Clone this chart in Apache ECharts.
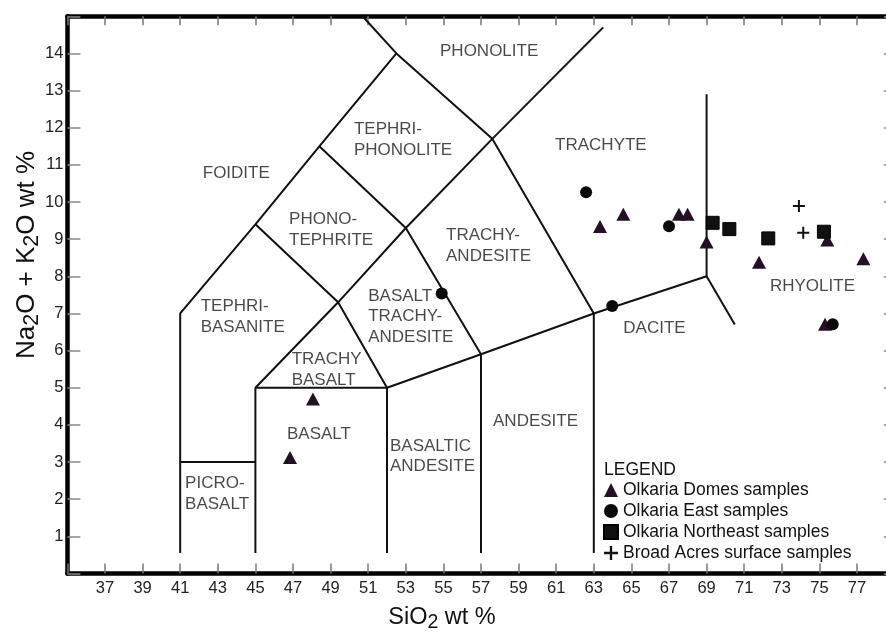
<!DOCTYPE html>
<html><head><meta charset="utf-8">
<script src="https://cdn.jsdelivr.net/npm/echarts@6/dist/echarts.min.js"></script>
<style>html,body{margin:0;padding:0;background:#fff}#c{width:886px;height:632px}</style>
</head><body><div id="c"></div>
<script>
// ---- axis ranges / ticks ----
const xMin = 35, xMax = 78.8, xStep = 2;
const yMin = 0, yMax = 15, yStep = 1;
const xTickLabels = [37,39,41,43,45,47,49,51,53,55,57,59,61,63,65,67,69,71,73,75,77];
const yTickLabels = [1,2,3,4,5,6,7,8,9,10,11,12,13,14];

// ---- samples ----
const domesSiO2 = [63.33,64.57,67.53,67.99,69.0,71.79,75.42,77.34,75.30,48.06,46.84];
const domesAlk  = [9.34,9.67,9.67,9.67,8.92,8.38,8.98,8.47,6.71,4.70,3.12];
const eastSiO2 = [62.59,67.0,63.98,75.71,54.91];
const eastAlk  = [10.26,9.35,7.20,6.71,7.54];
const neSiO2 = [69.32,70.21,72.28,75.24];
const neAlk  = [9.44,9.27,9.02,9.20];
const baSiO2 = [73.91,74.14];
const baAlk  = [9.89,9.17];

// ---- TAS field boundaries ----
const boundaryA = [[41,0.55],[41,7],[45,9.4],[48.4,11.5],[52.5,14]];
const boundaryB = [[50.7,15],[52.5,14],[57.6,11.7],[63,7],[63,0.55]];
const boundaryC = [[57.6,11.7],[63.5,14.7]];
const boundaryD = [[41,3],[45,3]];
const boundaryE = [[45,0.55],[45,5],[52,5],[52,0.55]];
const boundaryF = [[45,5],[49.4,7.3],[45,9.4]];
const boundaryG = [[52,5],[49.4,7.3],[53,9.3],[48.4,11.5]];
const boundaryH = [[53,9.3],[57,5.9],[57,0.55]];
const boundaryI = [[53,9.3],[57.6,11.7]];
const boundaryJ = [[52,5],[57,5.9],[63,7],[69,8],[69,12.9]];
const boundaryK = [[69,8],[70.5,6.7]];

// ---- field names ----
const fieldNames = ['PHONOLITE','TEPHRI-\nPHONOLITE','FOIDITE','TRACHYTE','PHONO-\nTEPHRITE','TRACHY-\nANDESITE','TEPHRI-\nBASANITE','BASALT\nTRACHY-\nANDESITE','TRACHY\nBASALT','DACITE','RHYOLITE','BASALT','BASALTIC\nANDESITE','ANDESITE','PICRO-\nBASALT'];
const fieldX = [54.82,50.24,42.2,60.94,46.79,55.14,42.09,51.0,46.93,64.57,72.37,46.68,52.16,57.64,41.26];
const fieldY = [14.06,11.67,10.78,11.53,9.25,8.82,6.91,6.92,5.48,6.6,7.72,3.75,3.16,4.1,2.15];

const seriesNames = ['Olkaria Domes samples','Olkaria East samples','Olkaria Northeast samples','Broad Acres surface samples'];

const FONT = 'Liberation Sans, Arial, Helvetica, sans-serif';
const plusPath = 'path://M5,0h2v5h5v2h-5v5h-2v-5h-5v-2h5z';
const zip = (a,b) => a.map((v,i) => [v,b[i]]);

const boundaries = [boundaryA,boundaryB,boundaryC,boundaryD,boundaryE,boundaryF,boundaryG,boundaryH,boundaryI,boundaryJ,boundaryK];

const chart = echarts.init(document.getElementById('c'), null, {renderer:'canvas'});

function xAxisDef(pos, showLabel) {
  return {
    type:'value', position:pos, min:xMin, max:xMax, interval:xStep,
    axisLine:{show:true, onZero:false, lineStyle:{color:'#000', width:4.5}},
    axisTick:{show:true, inside:true, length: pos==='bottom'?10:9, lineStyle:{color:'#777', width:1.5},
      interval: (i, v) => xTickLabels.indexOf(Math.round(v*100)/100) >= 0},
    axisLabel:{show:showLabel, margin:6, fontSize:16.5, color:'#222', fontFamily:FONT,
      formatter: v => xTickLabels.indexOf(Math.round(v*100)/100) >= 0 ? String(v) : ''},
    splitLine:{show:false}
  };
}
function yAxisDef(pos, showLabel) {
  return {
    type:'value', position:pos, min:yMin, max:yMax, interval:yStep,
    axisLine:{show:pos==='left', onZero:false, lineStyle:{color:'#000', width:4.5}},
    axisTick:{show:true, inside:true, length: pos==='left'?13:7, lineStyle:{color:'#888', width:1.5}},
    axisLabel:{show:showLabel, margin:4, fontSize:16.5, color:'#222', fontFamily:FONT,
      formatter: v => yTickLabels.indexOf(Math.round(v*100)/100) >= 0 ? String(v) : ''},
    splitLine:{show:false}
  };
}

const series = [];
boundaries.forEach(b => series.push({
  type:'line', data:b, showSymbol:false, symbol:'none', silent:true, z:1,
  lineStyle:{color:'#111', width:2}, animation:false
}));
series.push({
  type:'scatter', name:'fields', silent:true, symbolSize:0, z:2,
  data: fieldNames.map((n,i) => ({value:[fieldX[i], fieldY[i]], name:n})),
  label:{show:true, position:[0,0], align:'left', verticalAlign:'middle',
    formatter: p => p.name, fontSize:17, lineHeight:20.5, color:'#1a1a1a', fontFamily:FONT},
  animation:false
});
series.push({type:'scatter', name:seriesNames[0], data:zip(domesSiO2,domesAlk), symbol:'triangle', symbolSize:[14,13], itemStyle:{color:'#241024', opacity:1}, z:5, animation:false});
series.push({type:'scatter', name:seriesNames[1], data:zip(eastSiO2,eastAlk), symbol:'circle', symbolSize:12, itemStyle:{color:'#0a0a0a', opacity:1}, z:5, animation:false});
series.push({type:'scatter', name:seriesNames[2], data:zip(neSiO2,neAlk), symbol:'rect', symbolSize:13, itemStyle:{color:'#111', borderColor:'#000', borderWidth:1, opacity:1}, z:5, animation:false});
series.push({type:'scatter', name:seriesNames[3], data:zip(baSiO2,baAlk), symbol:plusPath, symbolSize:12, itemStyle:{color:'#111', opacity:1}, z:5, animation:false});

chart.setOption({
  backgroundColor:'#fff',
  animation:false,
  grid:{left:67.4, top:16.25, right:-4.84, bottom:58.5, containLabel:false, outerBoundsMode:'none'},
  xAxis:[xAxisDef('bottom', true), xAxisDef('top', false)],
  yAxis:[yAxisDef('left', true), yAxisDef('right', false)],
  legend:{
    data:seriesNames, orient:'vertical', left:603, top:481, itemWidth:14, itemHeight:14, itemGap:3,
    textStyle:{fontSize:17.5, color:'#111', fontFamily:FONT}, selectedMode:false, padding:0
  },
  graphic:[
    {type:'text', left:604, top:461, style:{text:'LEGEND', fontSize:17.5, fontFamily:FONT, fill:'#111'}},
    {type:'text', x:442, y:618, style:{
      text:'SiO{s|2} wt %', x:0, y:0, align:'center', verticalAlign:'middle',
      fontSize:23.5, fontFamily:FONT, fill:'#111',
      rich:{s:{fontSize:19.5, fontFamily:FONT, fill:'#111', padding:[10,0,0,0]}}
    }},
    {type:'text', x:27, y:255, rotation:Math.PI/2, style:{
      text:'Na{s|2}O + K{s|2}O wt %', x:0, y:0, align:'center', verticalAlign:'middle',
      fontSize:26, fontFamily:FONT, fill:'#111',
      rich:{s:{fontSize:21.5, fontFamily:FONT, fill:'#111', padding:[11,0,0,0]}}
    }}
  ],
  series:series
});
</script></body></html>
